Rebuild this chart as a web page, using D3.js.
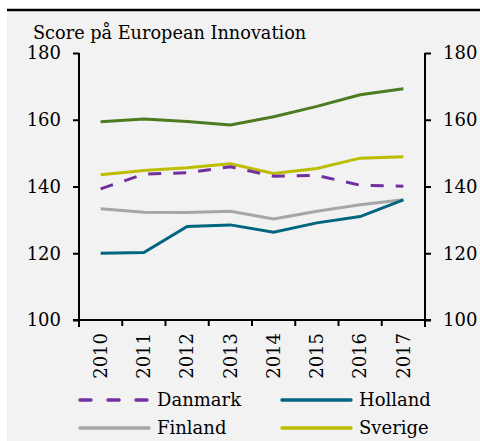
<!DOCTYPE html>
<html>
<head>
<meta charset="utf-8">
<script src="https://cdn.jsdelivr.net/npm/d3@7"></script>
<style>
  body { margin: 0; background: #fff; }
  svg text { font-family: "DejaVu Serif", serif; fill: #000; }
</style>
</head>
<body>
<div class="chart"></div>
<script>
var years = ["2010", "2011", "2012", "2013", "2014", "2015", "2016", "2017"];
var yTicks = [100, 120, 140, 160, 180];

var danmark = [139.3, 143.7, 144.1, 145.9, 143.1, 143.3, 140.4, 140.1];
var holland = [120.0, 120.2, 128.0, 128.5, 126.3, 129.1, 131.0, 136.0];
var finland = [133.3, 132.3, 132.2, 132.6, 130.3, 132.6, 134.5, 136.0];
var sverige = [143.5, 144.8, 145.6, 146.8, 143.9, 145.4, 148.5, 148.9];
var other = [159.4, 160.2, 159.5, 158.4, 160.9, 164.0, 167.5, 169.3];

var series = [
  { name: "", values: other, color: "#4e7a22", dash: null },
  { name: "Finland", values: finland, color: "#a6a6a6", dash: null },
  { name: "Holland", values: holland, color: "#00657f", dash: null },
  { name: "Sverige", values: sverige, color: "#bdbd00", dash: null },
  { name: "Danmark", values: danmark, color: "#7030a0", dash: "13,12" }
];

var svgWidth = 480, svgHeight = 441;
var svg = d3.select(".chart").append("svg")
  .attr("width", svgWidth)
  .attr("height", svgHeight);

// grey panel + top rule
svg.append("rect").attr("x", 7).attr("y", 10).attr("width", 473).attr("height", 431).attr("fill", "#f2f2f2");
svg.append("line").attr("x1", 7).attr("x2", 480).attr("y1", 10).attr("y2", 10)
  .attr("stroke", "#000").attr("stroke-width", 2.5);

var plotLeft = 79, plotRight = 425, plotTop = 53, plotBottom = 320;

var x = d3.scaleBand().domain(years).range([plotLeft, plotRight]);
var y = d3.scaleLinear().domain([100, 180]).range([plotBottom, plotTop]);

svg.append("text")
  .attr("x", 33).attr("y", 39)
  .style("font-size", "17.7px")
  .text("Score på European Innovation");

// axes
var leftAxis = svg.append("g")
  .attr("transform", `translate(${plotLeft},0)`)
  .call(d3.axisLeft(y).tickValues(yTicks).tickSize(6).tickPadding(12));
var rightAxis = svg.append("g")
  .attr("transform", `translate(${plotRight},0)`)
  .call(d3.axisRight(y).tickValues(yTicks).tickSize(6).tickPadding(12));
var bottomAxis = svg.append("g")
  .attr("transform", `translate(0,${plotBottom})`)
  .call(d3.axisBottom(x).tickSize(0).tickPadding(8));

[leftAxis, rightAxis, bottomAxis].forEach(function(g) {
  g.select(".domain").attr("stroke", "#000").attr("stroke-width", 2);
  g.selectAll(".tick line").attr("stroke", "#000").attr("stroke-width", 2);
  g.selectAll("text").style("font-size", "18px").attr("fill", "#000");
});
leftAxis.select(".domain").attr("d", `M0,${plotTop}V${plotBottom + 7}`);
rightAxis.select(".domain").attr("d", `M0,${plotTop}V${plotBottom + 7}`);

// x axis line spans past the y axes like the tick marks
bottomAxis.select(".domain").remove();
bottomAxis.append("line").attr("x1", plotLeft - 6).attr("x2", plotRight + 6)
  .attr("stroke", "#000").attr("stroke-width", 2);
bottomAxis.selectAll(".boundary")
  .data(d3.range(years.length + 1))
  .enter().append("line")
  .attr("x1", i => plotLeft + i * x.step()).attr("x2", i => plotLeft + i * x.step())
  .attr("y1", 0).attr("y2", 6)
  .attr("stroke", "#000").attr("stroke-width", 2);

bottomAxis.selectAll(".tick text")
  .attr("transform", "rotate(-90)")
  .attr("text-anchor", "end")
  .attr("x", -13).attr("y", 0).attr("dy", "0.35em");

// lines
var line = d3.line()
  .x((d, i) => x(years[i]) + x.bandwidth() / 2)
  .y(d => y(d));

series.forEach(function(s) {
  svg.append("path")
    .datum(s.values)
    .attr("d", line)
    .attr("fill", "none")
    .attr("stroke", s.color)
    .attr("stroke-width", 3)
    .attr("stroke-dasharray", s.dash);
});

// legend
var legendItems = [
  { s: series[4], x: 80, y: 400 },
  { s: series[2], x: 282, y: 400 },
  { s: series[1], x: 80, y: 428 },
  { s: series[3], x: 282, y: 428 }
];
legendItems.forEach(function(l) {
  svg.append("line")
    .attr("x1", l.x).attr("x2", l.x + 69).attr("y1", l.y).attr("y2", l.y)
    .attr("stroke", l.s.color).attr("stroke-width", 3.5)
    .attr("stroke-linecap", "round")
    .attr("stroke-dasharray", l.s.dash ? "11,17" : null);
  svg.append("text")
    .attr("x", l.x + 77).attr("y", l.y).attr("dy", "0.35em")
    .style("font-size", "18px")
    .text(l.s.name);
});
</script>
</body>
</html>
